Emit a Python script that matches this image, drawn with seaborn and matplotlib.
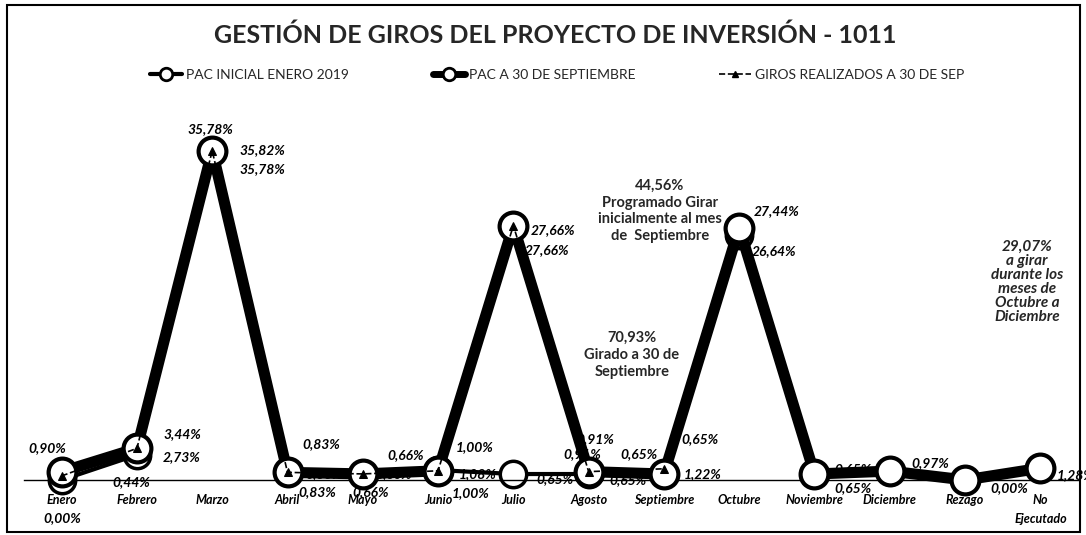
import matplotlib
matplotlib.use("Agg")
import matplotlib.pyplot as plt
import seaborn as sns
import numpy as np
from matplotlib.lines import Line2D
from matplotlib.patches import Rectangle

# ---------------- data ----------------
categories = ["Enero", "Febrero", "Marzo", "Abril", "Mayo", "Junio", "Julio",
              "Agosto", "Septiembre", "Octubre", "Noviembre", "Diciembre",
              "Rezago", "No\nEjecutado"]
pac_inicial = [0.00, 2.73, 35.78, 0.83, 0.66, 1.08, 0.65, 0.65, 0.65,
               26.64, 0.65, 0.97, 0.00, 1.28]
pac_30_sep = [0.90, 3.44, 35.82, 0.83, 0.66, 1.00, 27.66, 0.91, 0.65,
              27.44, 0.65, 0.97, 0.00, 1.28]
giros_30_sep = [0.44, 3.44, 35.78, 0.83, 0.66, 1.00, 27.66, 0.91, 1.22,
                np.nan, np.nan, np.nan, np.nan, np.nan]
series_names = ["PAC INICIAL ENERO 2019", "PAC A 30 DE SEPTIEMBRE",
                "GIROS REALIZADOS A 30 DE SEP"]
title = "GESTIÓN DE GIROS DEL PROYECTO DE INVERSIÓN - 1011"
note_programado = "44,56%\nProgramado Girar\ninicialmente al mes\nde  Septiembre"
note_girado = "70,93%\nGirado a 30 de\nSeptiembre"
note_por_girar = "29,07%\na girar\ndurante los\nmeses de\nOctubre a\nDiciembre"

# ---------------- label offsets (pixels) ----------------
off_inicial = [(1, -38), (45, -2), (-2, 22), (37, -2), (31, 0), (40, -4), (42, -5),
               (39, -6), (-25, 20), (35, -16), (39, -14), None, None, None]
off_pac = [(-14, 24), (45, 14), (50, 0), (34, 28), (43, 19), (37, 24), (40, -4),
           (7, 33), (36, 35), (37, 17), (39, 5), (41, 8), (44, -8), (35, -7)]
off_giros = [(70, -6), None, (50, -18), (30, -20), (8, -18), (33, -22), (34, -24),
             (-6, 18), (39, -5), None, None, None, None, None]

sns.set_theme(style="white")
plt.rcParams['font.family'] = ['Lato', 'DejaVu Sans']

W, H = 1086, 535
fig = plt.figure(figsize=(W / 100, H / 100), dpi=100)
ax = fig.add_axes([24 / W, 1 - 480 / H, 1054 / W, 390 / H])

sns.lineplot(x=categories, y=pac_inicial, ax=ax, color="black", lw=3,
             marker="o", markersize=19, markerfacecolor="white",
             markeredgecolor="black", markeredgewidth=2.5, clip_on=False,
             zorder=2, sort=False)
sns.lineplot(x=categories, y=pac_30_sep, ax=ax, color="black", lw=8,
             marker="o", markersize=20, markerfacecolor="white",
             markeredgecolor="black", markeredgewidth=3, clip_on=False,
             zorder=3, sort=False)
sns.lineplot(x=categories[:9], y=giros_30_sep[:9], ax=ax, color="black", lw=1.2,
             linestyle="--", marker="^", markersize=6, markerfacecolor="black",
             markeredgecolor="black", clip_on=False, zorder=4, sort=False)

ax.set_xlim(-0.5, len(categories) - 0.5)
ax.set_ylim(0, 42.4)
ax.set_yticks([])
for s in ["top", "left", "right"]:
    ax.spines[s].set_visible(False)
ax.spines["bottom"].set_color("black")
ax.spines["bottom"].set_linewidth(1)
ax.tick_params(axis="x", length=0, pad=10)
for lab in ax.get_xticklabels():
    lab.set_fontstyle("italic")
    lab.set_fontweight("bold")
    lab.set_fontsize(9)
    lab.set_color("black")
    lab.set_linespacing(1.7)
ax.set_xlabel("")
ax.set_ylabel("")


def fmt(v):
    return f"{v:.2f}%".replace(".", ",")


for vals, offs in [(pac_inicial, off_inicial), (pac_30_sep, off_pac),
                   (giros_30_sep, off_giros)]:
    for i, (v, o) in enumerate(zip(vals, offs)):
        if o is None or np.isnan(v):
            continue
        ax.annotate(fmt(v), xy=(i, v), xytext=o, textcoords="offset pixels",
                    ha="center", va="center", fontsize=10, fontweight="bold",
                    fontstyle="italic", color="black", zorder=6,
                    annotation_clip=False)

fig.text(660 / W, 1 - 211 / H, note_programado, ha="center", va="center",
         fontsize=10.5, fontweight="bold", linespacing=1.25)
fig.text(632 / W, 1 - 355 / H, note_girado, ha="center", va="center",
         fontsize=10.5, fontweight="bold", linespacing=1.25)
fig.text(1027 / W, 1 - 282 / H, note_por_girar, ha="center", va="center",
         fontsize=11, fontweight="bold", fontstyle="italic", linespacing=1.0)

fig.text(0.511, 1 - 35 / H, title, ha="center", va="center", fontsize=18,
         fontweight="bold")

handles = [
    Line2D([], [], color="black", lw=3, marker="o", markersize=9,
           markerfacecolor="white", markeredgecolor="black", markeredgewidth=2),
    Line2D([], [], color="black", lw=5, marker="o", markersize=9,
           markerfacecolor="white", markeredgecolor="black", markeredgewidth=2),
    Line2D([], [], color="black", lw=1.2, linestyle="--", marker="^",
           markersize=5, markerfacecolor="black"),
]
fig.legend(handles, series_names, loc="center", bbox_to_anchor=(0.513, 1 - 75 / H),
           ncol=3, frameon=False, fontsize=10, handlelength=2.3,
           handletextpad=0.3, columnspacing=6.0)

fig.add_artist(Rectangle((7 / W, 3 / H), 1073 / W, 527 / H, transform=fig.transFigure,
                         fill=False, lw=1.5, ec="black"))

fig.savefig("out.png", dpi=100, facecolor="white")
